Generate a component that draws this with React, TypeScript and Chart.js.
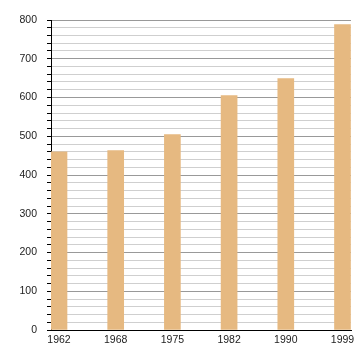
import React, { useEffect, useRef } from "react";
import { Chart, registerables } from "chart.js";

Chart.register(...registerables);

const years = ["1962", "1968", "1975", "1982", "1990", "1999"];
const values = [460, 463, 504, 605, 649, 788];
const yMax = 800;
const yStep = 20;

export default function App() {
  const ref = useRef<HTMLCanvasElement | null>(null);
  useEffect(() => {
    if (!ref.current) return;
    const font = { family: "'Liberation Sans', Arial, sans-serif", size: 10.5 };
    const chart = new Chart(ref.current, {
      type: "bar",
      data: {
        datasets: [
          {
            data: values.map((v, i) => ({ x: i, y: v })),
            backgroundColor: "#E6B981",
            barThickness: 16,
            borderWidth: 0,
          },
        ],
      },
      options: {
        animation: false,
        responsive: false,
        maintainAspectRatio: false,
        layout: { padding: { top: 20, right: 9, left: 0, bottom: 0 } },
        plugins: { legend: { display: false }, tooltip: { enabled: false } },
        scales: {
          x: {
            type: "linear",
            offset: false,
            min: -0.141,
            max: 5.15,
            afterBuildTicks: (s: any) => {
              s.ticks = years.map((_, i) => ({ value: i }));
            },
            afterFit: (s: any) => {
              s.height = 30;
            },
            grid: { display: false, drawTicks: false, offset: false },
            border: { display: true, color: "#000", width: 1 },
            ticks: {
              autoSkip: false,
              maxRotation: 0,
              padding: 4,
              color: "#222",
              font,
              callback: (v: any) => years[v] ?? "",
            },
          },
          y: {
            min: 0,
            max: yMax,
            afterFit: (s: any) => {
              s.width = 51;
            },
            border: { display: true, color: "#000", width: 1 },
            grid: {
              color: (c: any) => (c.tick && c.tick.value % 100 === 0 ? "#999" : "#cfcfcf"),
              tickColor: "#000",
              tickLength: 4,
              lineWidth: 1,
            },
            ticks: {
              stepSize: yStep,
              padding: 10,
              color: "#222",
              font,
              autoSkip: false,
              callback: (v: any) => (v % 100 === 0 ? String(v) : ""),
            },
          },
        },
      },
    } as any);
    return () => chart.destroy();
  }, []);
  return (
    <div style={{ position: "fixed", left: 0, top: 0, width: 360, height: 360, background: "#fff" }}>
      <canvas ref={ref} width={360} height={360} style={{ width: 360, height: 360 }} />
    </div>
  );
}
